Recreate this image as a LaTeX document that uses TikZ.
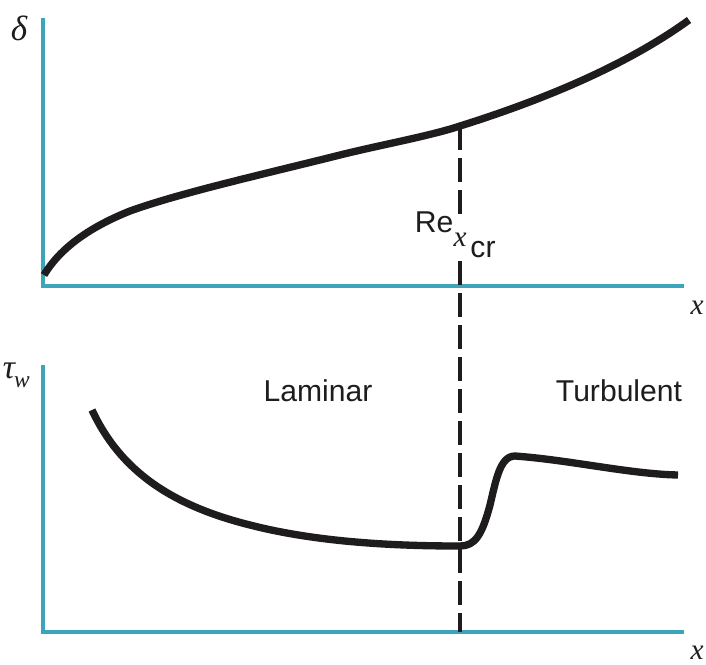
\documentclass[tikz,border=0pt]{standalone}
\usepackage{fontspec}
\setsansfont{Liberation Sans}
\setmainfont{Liberation Serif}
\definecolor{axisc}{RGB}{60,165,185}
\definecolor{curvec}{RGB}{30,28,28}
\tikzset{
 px/.style={x=0.03cm,y=-0.03cm},
 axisline/.style={draw=axisc,line width=0.12cm,line cap=butt},
 curve/.style={draw=curvec,line width=0.22cm,line cap=butt,line join=round},
 dashline/.style={draw=curvec,line width=0.12cm,dash pattern=on 0.72cm off 0.24cm},
 lab/.style={font=\sffamily\fontsize{25.7}{30}\selectfont,text=curvec,inner sep=0pt,anchor=base},
 mathlab/.style={font=\fontsize{25}{30}\selectfont\itshape,text=curvec,inner sep=0pt,anchor=base}
}
\begin{document}
\begin{tikzpicture}[px]
\useasboundingbox (0,0) rectangle (706,664);
\fill[white] (0,0) rectangle (706,664);
\coordinate (a1) at (43,18);
\coordinate (a0) at (43,286);
\coordinate (a2) at (684,286);
\coordinate (b1) at (43,365);
\coordinate (b0) at (43,632);
\coordinate (b2) at (684,632);
\coordinate (dtop) at (460,128);
\coordinate (dmidA) at (460,150);
\coordinate (dmidB) at (460,158);
\coordinate (dmidC) at (460,214);
\coordinate (dmidD) at (460,261);
\coordinate (dbot) at (460,632);
\draw[axisline] (a1) -- (a0) -- (a2);
\draw[axisline] (b1) -- (b0) -- (b2);
\draw[dashline,solid] (dtop) -- (dmidA);
\draw[dashline] (dmidB) -- (dmidC);
\draw[dashline] (dmidD) -- (dbot);
\draw[curve] (44,275) .. controls (62,245) and (95,225) .. (130,211)
 .. controls (180,193) and (260,175) .. (340,155)
 .. controls (380,145) and (430,136) .. (460,126)
 .. controls (530,104) and (620,70) .. (689,20);
\draw[curve] (92,410) .. controls (120,470) and (170,505) .. (250,525)
 .. controls (320,543) and (400,546) .. (460,546)
 .. controls (475,546) and (482,535) .. (490,505)
 .. controls (496,480) and (500,456) .. (515,456)
 .. controls (570,460) and (630,474) .. (678,475);
\node[lab] (re) at (434,232) {Re};
\node[mathlab] (xcr) at (460,246) {x};
\node[lab] (cr) at (483,257) {cr};
\node[mathlab,font=\fontsize{30}{32}\selectfont\itshape] (d) at (19,40) {δ};
\node[mathlab] (x1) at (697,314) {x};
\node[mathlab,font=\fontsize{29}{32}\selectfont\itshape] (tw) at (9,378) {τ};
\node[mathlab,font=\fontsize{20}{24}\selectfont\itshape] (w) at (22,387) {w};
\node[mathlab] (x2) at (697,659) {x};
\node[lab] (lam) at (318,401.5) {Laminar};
\node[lab] (turb) at (619,401) {Turbulent};
\end{tikzpicture}
\end{document}
